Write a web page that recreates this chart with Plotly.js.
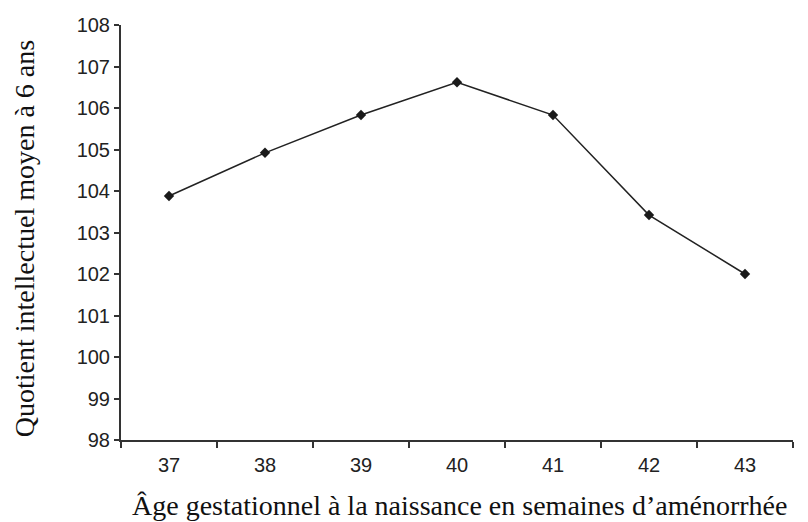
<!DOCTYPE html>
<html>
<head>
<meta charset="utf-8">
<script src="https://cdn.plot.ly/plotly-3.0.1.min.js"></script>
<style>html,body{margin:0;padding:0;background:#fff;}#chart{width:808px;height:522px;}</style>
</head>
<body>
<div id="chart"></div>
<script>
const weeks = ["37", "38", "39", "40", "41", "42", "43"];
const iqMean = [103.88, 104.92, 105.83, 106.62, 105.83, 103.42, 102.0];
const yTicks = [98, 99, 100, 101, 102, 103, 104, 105, 106, 107, 108];
const xTitle = "Âge gestationnel à la naissance en semaines d’aménorrhée";
const yTitle = "Quotient intellectuel moyen à 6 ans";

const trace = {
  x: weeks,
  y: iqMean,
  type: "scatter",
  mode: "lines+markers",
  line: {color: "#222222", width: 1.5},
  marker: {symbol: "diamond", size: 8, color: "#1a1a1a"},
  hoverinfo: "skip"
};

const sans = "'Liberation Sans', Arial, sans-serif";
const serif = "'Liberation Serif', 'Times New Roman', serif";

const layout = {
  width: 808,
  height: 522,
  margin: {l: 121, r: 15, t: 25, b: 82},
  paper_bgcolor: "#ffffff",
  plot_bgcolor: "#ffffff",
  showlegend: false,
  xaxis: {
    type: "category",
    range: [-0.5, 6.5],
    tickson: "boundaries",
    ticks: "outside",
    ticklen: 6,
    tickwidth: 2,
    tickcolor: "#333333",
    ticklabelstandoff: 6,
    showline: true,
    linecolor: "#333333",
    linewidth: 2,
    showgrid: false,
    zeroline: false,
    tickfont: {family: sans, size: 20, color: "#222222"},
    automargin: false
  },
  yaxis: {
    range: [98, 108],
    tickvals: yTicks,
    ticktext: yTicks.map(String),
    ticks: "outside",
    ticklen: 5,
    tickwidth: 2,
    tickcolor: "#333333",
    showline: true,
    linecolor: "#333333",
    linewidth: 2,
    showgrid: false,
    zeroline: false,
    tickfont: {family: sans, size: 20, color: "#222222"},
    automargin: false
  },
  annotations: [
    {text: xTitle, xref: "paper", yref: "paper", x: 0.503, y: -0.157,
     xanchor: "center", yanchor: "middle", showarrow: false,
     font: {family: serif, size: 28, color: "#111111"}},
    {text: yTitle, xref: "paper", yref: "paper", x: -0.1443, y: 0.484,
     xanchor: "center", yanchor: "middle", showarrow: false, textangle: -90,
     font: {family: serif, size: 28, color: "#111111"}}
  ]
};

Plotly.newPlot("chart", [trace], layout, {displayModeBar: false, staticPlot: true});
</script>
</body>
</html>
